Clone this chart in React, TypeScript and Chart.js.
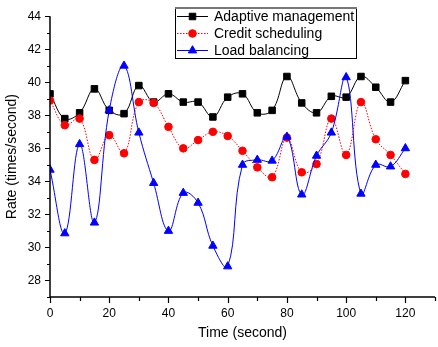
import React, { useEffect, useRef } from 'react';
import { Chart, registerables } from 'chart.js';
import { drawPoint } from 'chart.js/helpers';

Chart.register(...registerables);

const times = [0, 5, 10, 15, 20, 25, 30, 35, 40, 45, 50, 55, 60, 65, 70, 75, 80, 85, 90, 95, 100, 105, 110, 115, 120];
const adaptive = [39.3, 37.8, 38.15, 39.6, 38.3, 38.1, 39.8, 38.8, 39.3, 38.8, 38.8, 37.9, 39.1, 39.3, 38.15, 38.3, 40.35, 38.75, 38.15, 39.15, 39.1, 40.35, 39.7, 38.8, 40.1];
const credit = [38.9, 37.4, 37.8, 35.3, 36.8, 35.7, 38.8, 38.75, 37.3, 36.0, 36.5, 37.0, 36.75, 35.85, 34.85, 34.25, 36.65, 34.55, 35.05, 37.8, 35.6, 38.8, 36.55, 35.6, 34.45];
const load = [34.7, 30.85, 36.25, 31.5, 38.3, 41.0, 36.95, 33.9, 31.0, 33.3, 32.7, 30.1, 28.85, 35.0, 35.3, 35.25, 36.7, 33.2, 35.55, 36.95, 40.3, 33.25, 35.0, 34.9, 36.0];
const seriesLabels = ['Adaptive management', 'Credit scheduling', 'Load balancing'];
const xTitle = 'Time (second)';
const yTitle = 'Rate (times/second)';

const FONT = "'Liberation Sans', Arial, Helvetica, sans-serif";

const toPts = (vals: number[]) => vals.map((v, i) => ({ x: times[i], y: v }));

const axesPlugin = {
  id: 'customAxes',
  afterDatasetsDraw(chart: any) {
    const ctx = chart.ctx;
    const { left, right, top, bottom } = chart.chartArea;
    const xs = chart.scales.x;
    const ys = chart.scales.y;
    ctx.save();
    ctx.strokeStyle = '#000';
    ctx.lineWidth = 1.5;
    ctx.beginPath();
    ctx.moveTo(left, top);
    ctx.lineTo(left, bottom);
    ctx.lineTo(right, bottom);
    ctx.stroke();
    ctx.lineWidth = 1.2;
    ctx.beginPath();
    xs.ticks.forEach((t: any) => {
      const px = Math.round(xs.getPixelForValue(t.value)) + 0.5;
      const major = t.value % 20 === 0;
      ctx.moveTo(px, bottom);
      ctx.lineTo(px, bottom + (major ? 6 : 4));
    });
    ys.ticks.forEach((t: any) => {
      const py = Math.round(ys.getPixelForValue(t.value)) + 0.5;
      const major = t.value % 2 === 0;
      ctx.moveTo(left, py);
      ctx.lineTo(left - (major ? 5 : 3), py);
    });
    ctx.stroke();
    ctx.restore();
  },
  afterDraw(chart: any) {
    const ctx = chart.ctx;
    const lx = 175, ly = 7, lw = 181, lh = 51;
    ctx.save();
    ctx.fillStyle = '#fff';
    ctx.fillRect(lx, ly, lw, lh);
    ctx.strokeStyle = '#000';
    ctx.lineWidth = 1;
    ctx.strokeRect(lx + 0.5, ly + 0.5, lw, lh);
    ctx.strokeStyle = '#777';
    ctx.lineWidth = 2;
    ctx.beginPath();
    ctx.moveTo(lx, ly + 1);
    ctx.lineTo(lx + lw + 1, ly + 1);
    ctx.stroke();
    chart.data.datasets.forEach((ds: any, i: number) => {
      const y = 16.5 + i * 17;
      ctx.strokeStyle = ds.borderColor;
      ctx.lineWidth = 1;
      ctx.setLineDash(ds.borderDash || []);
      ctx.beginPath();
      ctx.moveTo(177, y);
      ctx.lineTo(208, y);
      ctx.stroke();
      ctx.setLineDash([]);
      ctx.fillStyle = ds.pointBackgroundColor;
      ctx.strokeStyle = ds.pointBorderColor;
      drawPoint(ctx, { pointStyle: ds.pointStyle, radius: ds.pointRadius, borderWidth: 1, rotation: 0 }, 192.5, y);
      ctx.fillStyle = '#000';
      ctx.font = '14px ' + FONT;
      ctx.textBaseline = 'middle';
      ctx.textAlign = 'left';
      ctx.fillText(ds.label, 214, y + 0.5);
    });
    ctx.restore();
  },
};

export default function App() {
  const ref = useRef<HTMLCanvasElement>(null);
  useEffect(() => {
    Chart.defaults.font.family = FONT;
    const chart = new Chart(ref.current as HTMLCanvasElement, {
      type: 'line',
      data: {
        datasets: [
          {
            label: seriesLabels[0],
            data: toPts(adaptive),
            borderColor: '#000000',
            backgroundColor: '#000000',
            pointBackgroundColor: '#000000',
            pointBorderColor: '#000000',
            pointStyle: 'rect',
            pointRadius: 4.6,
            borderWidth: 1,
            tension: 0.4,
            order: 2,
          },
          {
            label: seriesLabels[1],
            data: toPts(credit),
            borderColor: '#ff0000',
            backgroundColor: '#ff0000',
            pointBackgroundColor: '#ff0000',
            pointBorderColor: '#ff0000',
            pointStyle: 'circle',
            pointRadius: 3.8,
            borderWidth: 1,
            borderDash: [1.5, 1.5],
            tension: 0.4,
            order: 1,
          },
          {
            label: seriesLabels[2],
            data: toPts(load),
            borderColor: '#0000ff',
            backgroundColor: '#0000ff',
            pointBackgroundColor: '#0000ff',
            pointBorderColor: '#0000ff',
            pointStyle: 'triangle',
            pointRadius: 4.8,
            borderWidth: 1,
            tension: 0.4,
            order: 0,
          },
        ] as any,
      },
      options: {
        responsive: false,
        animation: false,
        devicePixelRatio: 1,
        layout: { padding: { top: 10, left: 0, right: 0, bottom: 0 } },
        plugins: { legend: { display: false }, tooltip: { enabled: false } },
        scales: {
          x: {
            type: 'linear',
            min: 0,
            max: 130,
            grid: { display: false, drawTicks: false },
            border: { display: false },
            ticks: {
              stepSize: 10,
              autoSkip: false,
              maxRotation: 0,
              padding: 9,
              color: '#000',
              font: { size: 12, family: FONT },
              callback: (v: any) => (Number(v) % 20 === 0 && Number(v) <= 120 ? String(v) : ''),
            },
            title: {
              display: true,
              text: xTitle,
              color: '#000',
              font: { size: 14, family: FONT },
              padding: { top: 0, bottom: 5 },
            },
            afterFit: (s: any) => {
              s.height = 50;
            },
          },
          y: {
            type: 'linear',
            min: 27,
            max: 44,
            grid: { display: false, drawTicks: false },
            border: { display: false },
            ticks: {
              stepSize: 1,
              autoSkip: false,
              padding: 9,
              color: '#000',
              font: { size: 12, family: FONT },
              callback: (v: any) => (Number(v) % 2 === 0 ? String(v) : ''),
            },
            title: {
              display: true,
              text: yTitle,
              color: '#000',
              font: { size: 14, family: FONT },
              padding: { top: 4, bottom: 0 },
            },
            afterFit: (s: any) => {
              s.width = 50;
            },
          },
        },
      } as any,
      plugins: [axesPlugin],
    });
    return () => chart.destroy();
  }, []);
  return (
    <div style={{ position: 'fixed', left: 0, top: 0, width: 438, height: 347, overflow: 'hidden', background: '#fff' }}>
      <canvas ref={ref} width={444} height={347} style={{ display: 'block', width: 444, height: 347 }} />
    </div>
  );
}
